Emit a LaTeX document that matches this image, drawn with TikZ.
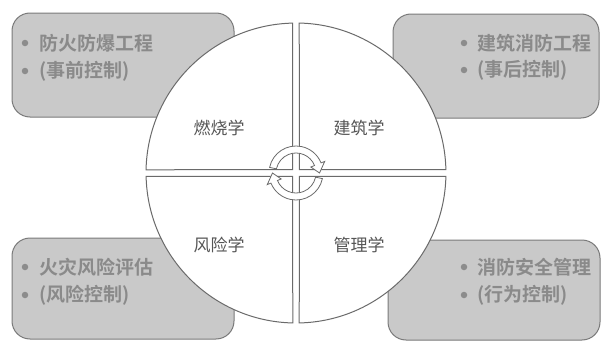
\documentclass[tikz,border=0pt]{standalone}
\usepackage{fontspec}
\usetikzlibrary{calc}
\newfontfamily\cjk{Noto Sans CJK SC}
\newfontfamily\cjkb{Noto Sans CJK SC Bold}
\definecolor{boxfill}{HTML}{C9C9C9}
\definecolor{boxline}{HTML}{7A7A7A}
\definecolor{boxtext}{HTML}{8A8A8A}
\definecolor{bulcol}{HTML}{8C8C8C}
\definecolor{secline}{HTML}{6A6A6A}
\definecolor{labtext}{HTML}{555555}
\tikzset{
  infobox/.style={fill=boxfill, draw=boxline, line width=1pt, rounded corners=18pt},
  boxlabel/.style={anchor=west, inner sep=0pt, text=boxtext, font=\cjkb\fontsize{19}{22}\selectfont},
  bul/.style={circle, fill=bulcol, inner sep=0pt, minimum size=6.5pt},
  sector/.style={fill=white, draw=secline, line width=1pt},
  seclabel/.style={inner sep=0pt, text=labtext, font=\cjk\fontsize{17}{20}\selectfont},
  cyclearrow/.style={fill=white, draw=secline, line width=0.8pt, line join=miter}
}
\begin{document}
\begin{tikzpicture}[x=1pt,y=1pt]
\useasboundingbox (0,0) rectangle (606,-348);
\fill[white] (0,0) rectangle (606,-348);
% boxes
\draw[infobox] (12,-13) rectangle (234,-117);
\draw[infobox] (393,-14) rectangle (599,-118);
\draw[infobox] (12,-238) rectangle (234,-339);
\draw[infobox] (388,-240) rectangle (600,-340);
% bullets
\node[bul] (b1) at (25,-43) {};
\node[bul] (b2) at (25,-71) {};
\node[bul] (b3) at (464,-43) {};
\node[bul] (b4) at (464,-70) {};
\node[bul] (b5) at (25,-267) {};
\node[bul] (b6) at (25,-295) {};
\node[bul] (b7) at (464,-267) {};
\node[bul] (b8) at (464,-295) {};
% box texts
\node[boxlabel] (t1) at (39,-43) {防火防爆工程};
\node[boxlabel] (t2) at (39,-71) {(事前控制)};
\node[boxlabel] (t3) at (477,-43) {建筑消防工程};
\node[boxlabel] (t4) at (477,-70) {(事后控制)};
\node[boxlabel] (t5) at (39,-267) {火灾风险评估};
\node[boxlabel] (t6) at (39,-295) {(风险控制)};
\node[boxlabel] (t7) at (477,-267) {消防安全管理};
\node[boxlabel] (t8) at (477,-295) {(行为控制)};
% circle sectors
\coordinate (c) at (296,-173);
\draw[sector] (c) ++(-3.3,3.3) -- ++(0,146.6) arc[start angle=91.26,end angle=178.74,radius=150] -- cycle;
\draw[sector] (c) ++(3.3,3.3) -- ++(146.6,0) arc[start angle=1.26,end angle=88.74,radius=150] -- cycle;
\draw[sector] (c) ++(3.3,-3.3) -- ++(146.6,0) arc[start angle=-1.26,end angle=-88.74,radius=150] -- cycle;
\draw[sector] (c) ++(-3.3,-3.3) -- ++(-146.6,0) arc[start angle=181.26,end angle=268.74,radius=150] -- cycle;
% labels
\node[seclabel] (q1) at (219,-128) {燃烧学};
\node[seclabel] (q2) at (359,-128) {建筑学};
\node[seclabel] (q3) at (219,-245) {风险学};
\node[seclabel] (q4) at (359,-245) {管理学};
% cycle arrows
\draw[cyclearrow] ($(c)+(168:27)$) arc[start angle=168,end angle=22,radius=27]
  -- ($(c)+(22:31)$) -- ($(c)+(0:23.5)$) -- ($(c)+(22:16)$) -- ($(c)+(22:20)$)
  arc[start angle=22,end angle=168,radius=20] -- cycle;
\draw[cyclearrow] ($(c)+(-12:27)$) arc[start angle=-12,end angle=-158,radius=27]
  -- ($(c)+(-158:31)$) -- ($(c)+(180:23.5)$) -- ($(c)+(-158:16)$) -- ($(c)+(-158:20)$)
  arc[start angle=-158,end angle=-12,radius=20] -- cycle;
\end{tikzpicture}
\end{document}
